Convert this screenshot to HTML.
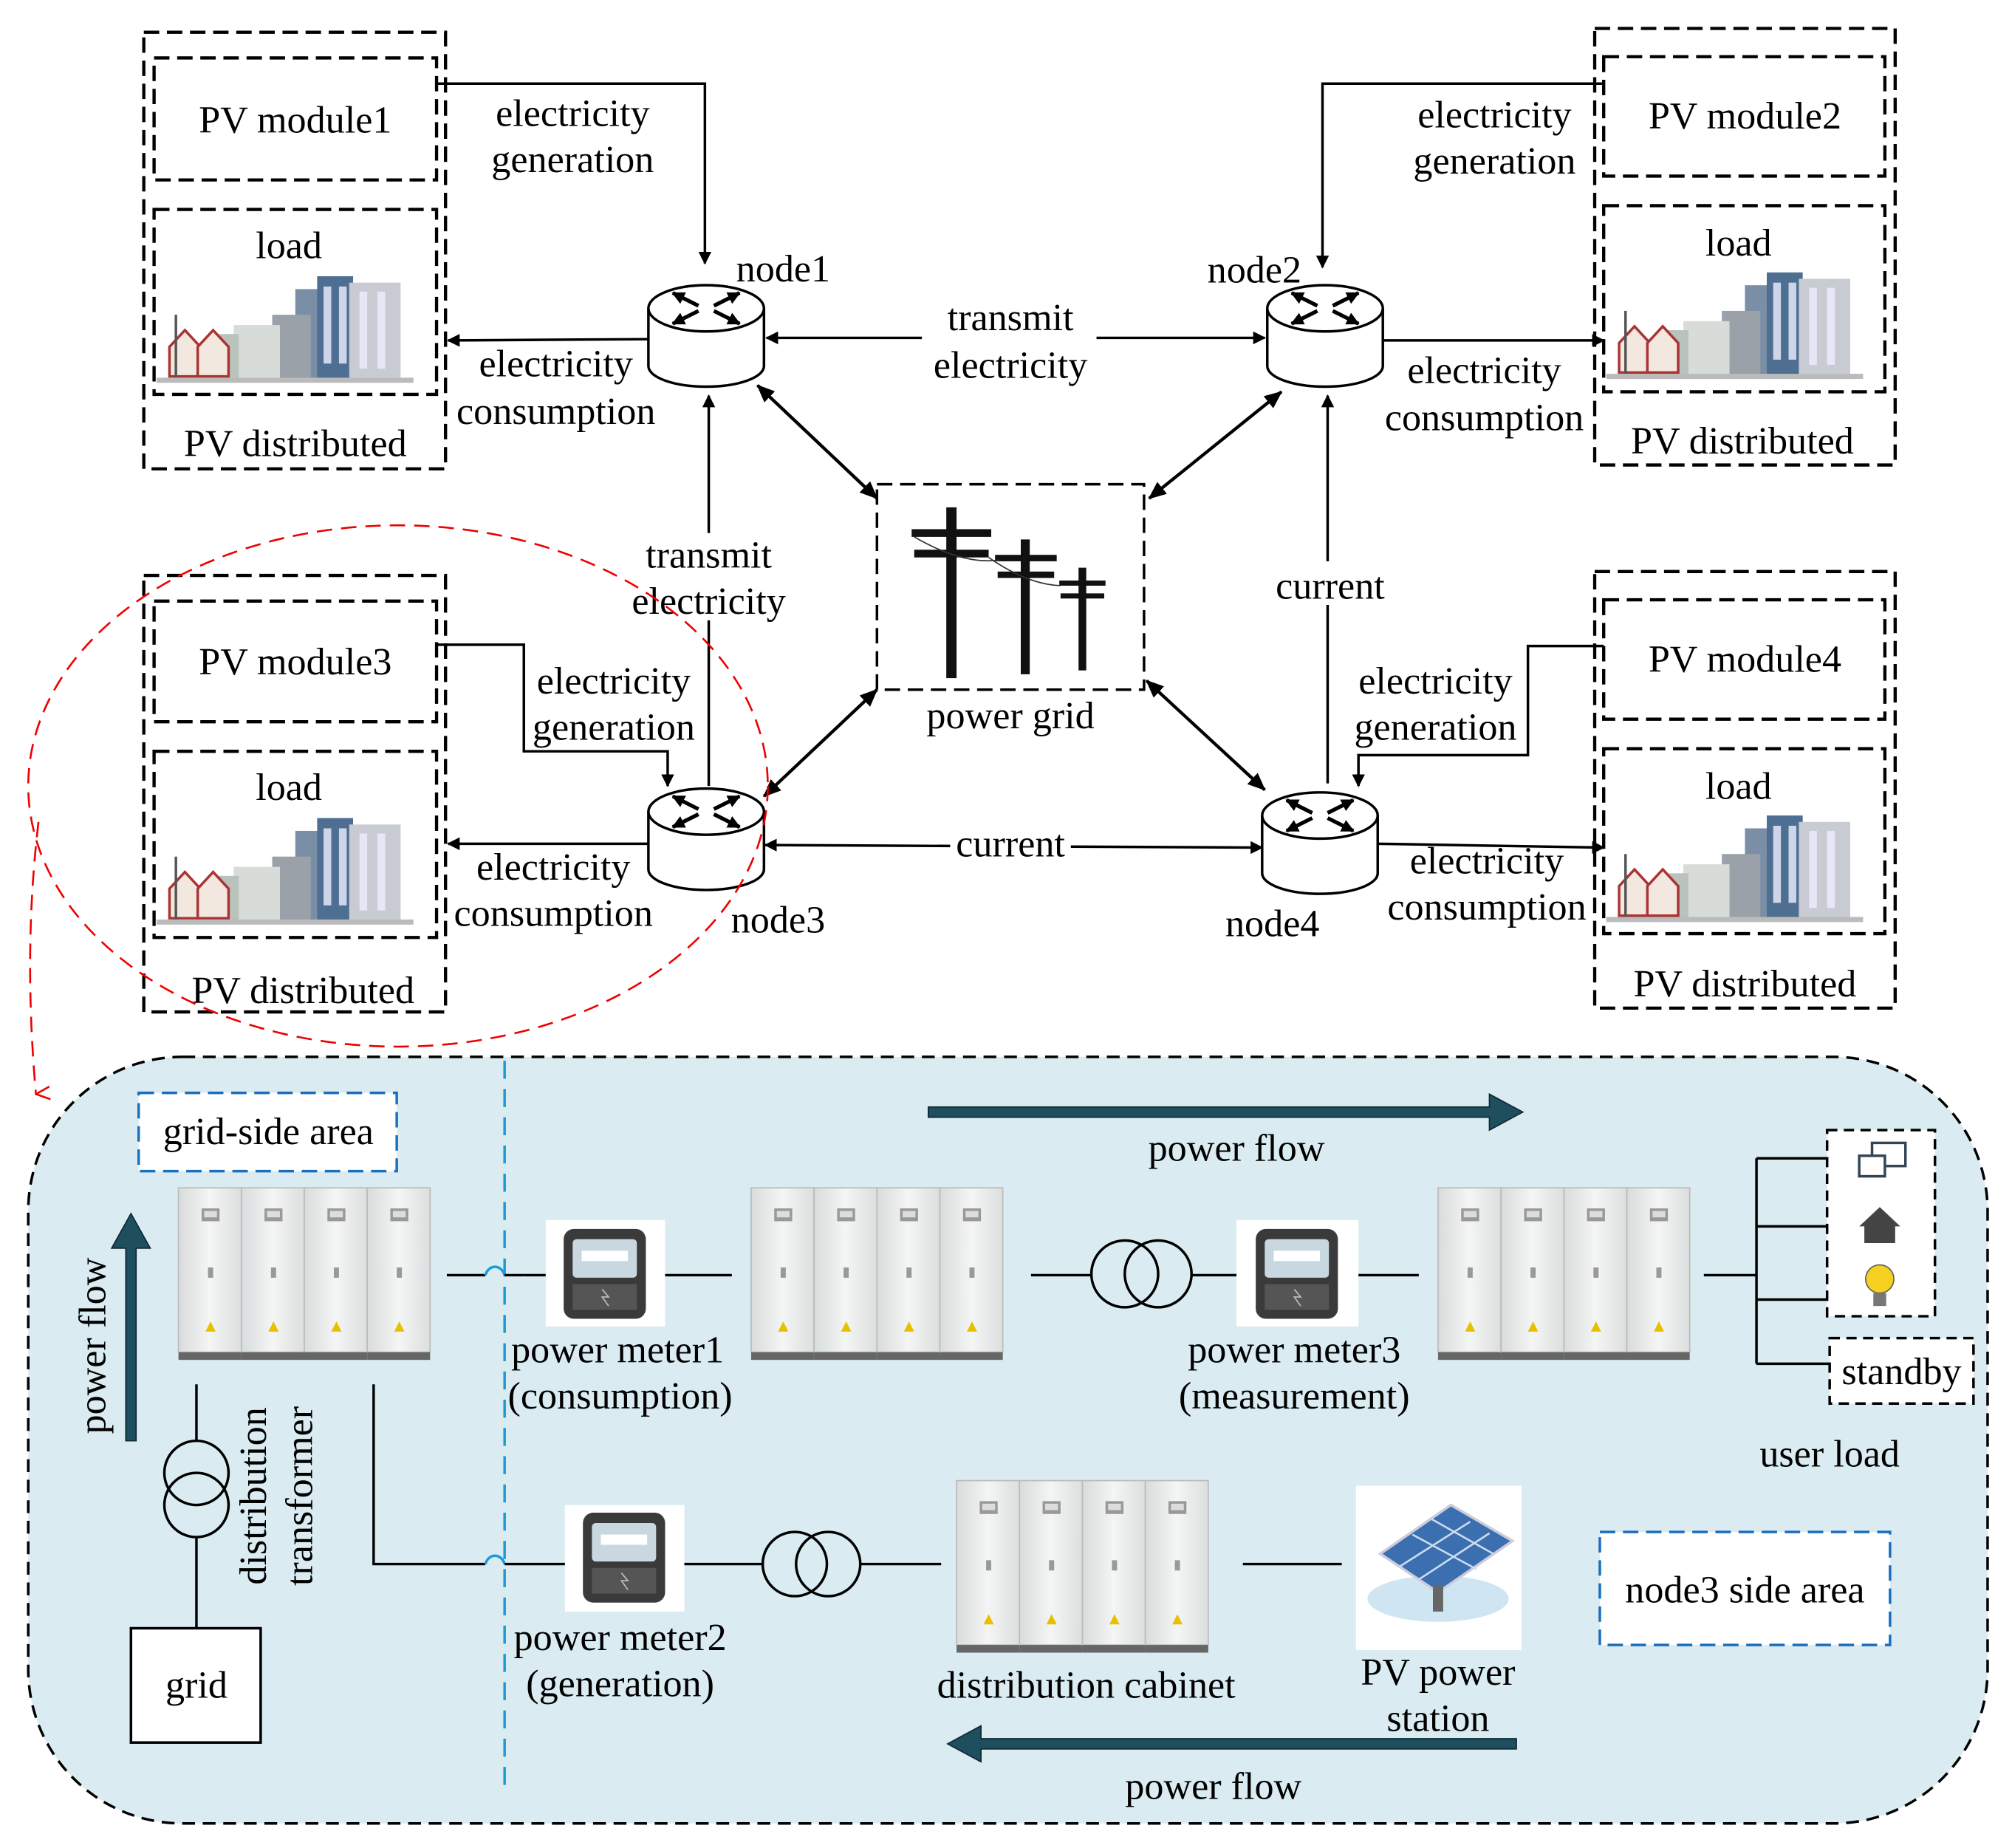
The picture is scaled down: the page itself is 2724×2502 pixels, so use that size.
<!DOCTYPE html>
<html><head><meta charset="utf-8"><style>
html,body{margin:0;padding:0;background:#fff}
svg{display:block}
text{font-family:"Liberation Serif",serif;font-size:30px;fill:#000}
</style></head><body>
<svg width="2724" height="2502" viewBox="0 0 1567 1439" xmlns="http://www.w3.org/2000/svg">
<defs>
<marker id="ar" markerWidth="10" markerHeight="10" refX="9" refY="5" orient="auto-start-reverse" markerUnits="userSpaceOnUse"><path d="M0,0 L10,5 L0,10 z" fill="#000"/></marker>
<marker id="ar2" markerWidth="14" markerHeight="14" refX="13" refY="7" orient="auto-start-reverse" markerUnits="userSpaceOnUse"><path d="M0,1 L14,7 L0,13 z" fill="#000"/></marker>
<marker id="rar" markerWidth="12" markerHeight="12" refX="6" refY="11" orient="auto" markerUnits="userSpaceOnUse"><path d="M1,0 L6,11 L11,0" fill="none" stroke="#e00" stroke-width="1.5"/></marker>
<g id="router">
<path d="M-45,0 L-45,45 A45,16 0 0 0 45,45 L45,0" fill="#fff" stroke="#000" stroke-width="2"/>
<ellipse cx="0" cy="0" rx="45" ry="18" fill="#fff" stroke="#000" stroke-width="2"/>
<g stroke="#000" stroke-width="3" marker-end="url(#ar)">
<line x1="-6" y1="-2" x2="-26" y2="-12"/><line x1="6" y1="2" x2="26" y2="12"/>
<line x1="6" y1="-2" x2="26" y2="-12"/><line x1="-6" y1="2" x2="-26" y2="12"/>
</g></g>
<g id="bld">
<rect x="0" y="0" width="200" height="85" fill="#fff"/>
<rect x="108" y="10" width="34" height="70" fill="#7a8fa6"/><rect x="125" y="0" width="28" height="80" fill="#4f6f92"/>
<rect x="150" y="5" width="40" height="75" fill="#c8ccd2"/><rect x="90" y="30" width="30" height="50" fill="#9aa1a8"/>
<rect x="60" y="38" width="36" height="42" fill="#d7dcd8"/><rect x="40" y="45" width="24" height="35" fill="#b9c3bb"/>
<path d="M10,55 L22,42 L34,55 L34,78 L10,78z" fill="#f3e8e0" stroke="#a33" stroke-width="2"/>
<path d="M32,55 L44,42 L56,55 L56,78 L32,78z" fill="#f3e8e0" stroke="#a33" stroke-width="2"/>
<line x1="15" y1="30" x2="15" y2="80" stroke="#555" stroke-width="2"/>
<g fill="#eef" opacity=".8"><rect x="130" y="8" width="6" height="60"/><rect x="142" y="8" width="6" height="60"/><rect x="158" y="12" width="6" height="60"/><rect x="172" y="12" width="6" height="60"/></g>
<rect x="0" y="79" width="200" height="4" fill="#bbb"/>
</g>
<linearGradient id="cg" x1="0" x2="1"><stop offset="0" stop-color="#d9dcdc"/><stop offset=".5" stop-color="#f4f5f5"/><stop offset="1" stop-color="#dcdfdf"/></linearGradient>
<g id="cab">
<g id="pan"><rect x="0" y="0" width="49" height="128" fill="url(#cg)" stroke="#bbb"/><rect x="18" y="16" width="14" height="10" fill="#999"/><rect x="20" y="18" width="10" height="5" fill="#ddd"/><rect x="23" y="62" width="4" height="8" fill="#999"/><path d="M21,112 L25,104 L29,112z" fill="#e8c000"/><rect x="0" y="128" width="49" height="6" fill="#666"/></g>
<use href="#pan" x="49"/><use href="#pan" x="98"/><use href="#pan" x="147"/>
</g>
<g id="meter">
<rect x="-32" y="-35" width="64" height="70" rx="8" fill="#3a3a3a"/>
<rect x="-25" y="-27" width="50" height="30" rx="3" fill="#c9d7e0"/>
<rect x="-18" y="-18" width="36" height="8" fill="#fff"/>
<rect x="-25" y="8" width="50" height="20" fill="#555"/>
<path d="M-2,12 L3,18 L-2,18 L3,25" stroke="#bbb" fill="none"/>
</g>
</defs>

<g fill="none" stroke="#000" stroke-width="2.5" stroke-dasharray="12,6">
<rect x="112" y="25" width="235" height="340"/><rect x="120" y="45" width="220" height="95"/><rect x="120" y="163" width="220" height="144"/>
<rect x="1242" y="22" width="234" height="340"/><rect x="1249" y="44" width="219" height="93"/><rect x="1249" y="160" width="219" height="145"/>
<rect x="112" y="448" width="235" height="340"/><rect x="120" y="468" width="220" height="94"/><rect x="120" y="585" width="220" height="145"/>
<rect x="1242" y="445" width="234" height="340"/><rect x="1249" y="467" width="219" height="93"/><rect x="1249" y="583" width="219" height="144"/>
<rect x="683" y="377" width="208" height="160" stroke-width="2"/>
</g>
<use href="#bld" x="122" y="215"/><use href="#bld" x="1251" y="212"/><use href="#bld" x="122" y="637"/><use href="#bld" x="1251" y="635"/>
<g text-anchor="middle">
<text x="230" y="103">PV module1</text><text x="225" y="201">load</text><text x="230" y="355">PV distributed</text>
<text x="1359" y="100">PV module2</text><text x="1354" y="199">load</text><text x="1357" y="353">PV distributed</text>
<text x="230" y="525">PV module3</text><text x="225" y="623">load</text><text x="236" y="781">PV distributed</text>
<text x="1359" y="523">PV module4</text><text x="1354" y="622">load</text><text x="1359" y="776">PV distributed</text>
</g>
<g fill="#111">
<rect x="737" y="395" width="8" height="133"/><rect x="710" y="412" width="62" height="6"/><rect x="712" y="428" width="58" height="6"/>
<rect x="795" y="420" width="7" height="105"/><rect x="775" y="432" width="48" height="5"/><rect x="777" y="445" width="44" height="5"/>
<rect x="840" y="442" width="6" height="80"/><rect x="825" y="452" width="36" height="4"/><rect x="826" y="462" width="34" height="4"/>
</g>
<path d="M712,418 Q750,440 778,436 M770,434 Q800,455 826,456" stroke="#333" fill="none"/>
<text x="787" y="567" text-anchor="middle">power grid</text>

<g stroke="#000" stroke-width="2" fill="none">
<polyline points="340,65 549,65 549,205" marker-end="url(#ar)"/>
<line x1="505" y1="264" x2="349" y2="265" marker-end="url(#ar)"/>
<line x1="597" y1="263" x2="985" y2="263" marker-start="url(#ar)" marker-end="url(#ar)"/>
<line x1="552" y1="612" x2="552" y2="308" marker-end="url(#ar)"/>
<line x1="590" y1="300" x2="683" y2="388" stroke-width="2.5" marker-start="url(#ar2)" marker-end="url(#ar2)"/>
<line x1="998" y1="305" x2="895" y2="388" stroke-width="2.5" marker-start="url(#ar2)" marker-end="url(#ar2)"/>
<line x1="595" y1="620" x2="683" y2="537" stroke-width="2.5" marker-start="url(#ar2)" marker-end="url(#ar2)"/>
<line x1="893" y1="530" x2="985" y2="615" stroke-width="2.5" marker-start="url(#ar2)" marker-end="url(#ar2)"/>
<line x1="596" y1="658" x2="983" y2="660" marker-start="url(#ar)" marker-end="url(#ar)"/>
<line x1="1034" y1="610" x2="1034" y2="308" marker-end="url(#ar)"/>
<polyline points="1249,65 1030,65 1030,208" marker-end="url(#ar)"/>
<line x1="1077" y1="265" x2="1249" y2="265" marker-end="url(#ar)"/>
<polyline points="340,502 408,502 408,585 520,585 520,612" marker-end="url(#ar)"/>
<line x1="505" y1="657" x2="349" y2="657" marker-end="url(#ar)"/>
<polyline points="1249,503 1190,503 1190,588 1058,588 1058,612" marker-end="url(#ar)"/>
<line x1="1073" y1="657" x2="1249" y2="660" marker-end="url(#ar)"/>
</g>
<use href="#router" x="550" y="240"/><use href="#router" x="1032" y="240"/><use href="#router" x="550" y="632"/><use href="#router" x="1028" y="635"/>
<g fill="#fff"><rect x="718" y="228" width="136" height="70"/><rect x="496" y="415" width="115" height="68"/><rect x="740" y="642" width="94" height="30"/><rect x="990" y="437" width="92" height="34"/></g>
<g text-anchor="middle">
<text x="446" y="98">electricity</text><text x="446" y="134">generation</text>
<text x="433" y="293">electricity</text><text x="433" y="330">consumption</text>
<text x="610" y="219">node1</text><text x="977" y="220">node2</text>
<text x="787" y="257">transmit</text><text x="787" y="294">electricity</text>
<text x="1164" y="99">electricity</text><text x="1164" y="135">generation</text>
<text x="1156" y="298">electricity</text><text x="1156" y="335">consumption</text>
<text x="552" y="442">transmit</text><text x="552" y="478">electricity</text>
<text x="478" y="540">electricity</text><text x="478" y="576">generation</text>
<text x="431" y="685">electricity</text><text x="431" y="721">consumption</text>
<text x="606" y="726">node3</text><text x="787" y="667">current</text><text x="991" y="729">node4</text>
<text x="1036" y="466">current</text>
<text x="1118" y="540">electricity</text><text x="1118" y="576">generation</text>
<text x="1158" y="680">electricity</text><text x="1158" y="716">consumption</text>
</g>
<ellipse cx="310" cy="612" rx="288" ry="203" fill="none" stroke="#e00" stroke-width="1.5" stroke-dasharray="12,7"/>
<path d="M30,640 Q18,740 28,852" fill="none" stroke="#e00" stroke-width="1.5" stroke-dasharray="12,7" marker-end="url(#rar)"/>

<rect x="22" y="823" width="1526" height="597" rx="120" fill="#daecf2" stroke="#000" stroke-width="2" stroke-dasharray="10,6"/>
<line x1="393" y1="826" x2="393" y2="1392" stroke="#1a9ad6" stroke-width="2" stroke-dasharray="14,8"/>
<rect x="108" y="851" width="201" height="61" fill="#fff" stroke="#1a6fc0" stroke-width="2" stroke-dasharray="12,6"/>
<text x="209" y="891" text-anchor="middle">grid-side area</text>
<rect x="1246" y="1193" width="226" height="88" fill="#fff" stroke="#1a6fc0" stroke-width="2" stroke-dasharray="12,6"/>
<text x="1359" y="1248" text-anchor="middle">node3 side area</text>
<g fill="#1f4e5f" stroke="#0e2a33" stroke-width="1">
<path d="M723,862 L1160,862 L1160,852 L1186,866 L1160,880 L1160,870 L723,870z"/>
<path d="M1181,1354 L764,1354 L764,1344 L738,1358 L764,1372 L764,1362 L1181,1362z"/>
<path d="M98,1122 L98,972 L87,972 L102,945 L117,972 L106,972 L106,1122z"/>
</g>
<text x="963" y="904" text-anchor="middle">power flow</text>
<text x="945" y="1401" text-anchor="middle">power flow</text>
<text transform="translate(82,1048) rotate(-90)" text-anchor="middle">power flow</text>
<use href="#cab" x="139" y="925"/><use href="#cab" x="585" y="925"/><use href="#cab" x="1120" y="925"/><use href="#cab" x="745" y="1153"/>
<rect x="425" y="950" width="93" height="83" fill="#fff"/><use href="#meter" x="471" y="992"/>
<rect x="963" y="950" width="95" height="83" fill="#fff"/><use href="#meter" x="1010" y="992"/>
<rect x="440" y="1172" width="93" height="83" fill="#fff"/><use href="#meter" x="486" y="1213"/>
<g stroke="#000" stroke-width="2" fill="none">
<path d="M348,993 L378,993"/><path d="M378,993 A8,10 0 0 1 393,993" stroke="#1a9ad6"/><path d="M408,993 L425,993"/>
<path d="M393,993 L408,993"/>
<line x1="518" y1="993" x2="570" y2="993"/><line x1="803" y1="993" x2="850" y2="993"/><line x1="928" y1="993" x2="963" y2="993"/>
<line x1="1058" y1="993" x2="1105" y2="993"/><line x1="1327" y1="993" x2="1368" y2="993"/>
<circle cx="876" cy="992" r="26"/><circle cx="902" cy="992" r="26"/>
<polyline points="291,1078 291,1218 378,1218"/><path d="M378,1218 A8,10 0 0 1 393,1218" stroke="#1a9ad6"/><line x1="393" y1="1218" x2="440" y2="1218"/>
<line x1="533" y1="1218" x2="595" y2="1218"/><circle cx="619" cy="1218" r="25"/><circle cx="645" cy="1218" r="25"/><line x1="670" y1="1218" x2="733" y2="1218"/>
<line x1="968" y1="1218" x2="1045" y2="1218"/>
<line x1="153" y1="1078" x2="153" y2="1122"/><circle cx="153" cy="1147" r="25"/><circle cx="153" cy="1172" r="25"/><line x1="153" y1="1197" x2="153" y2="1268"/>
<line x1="1368" y1="902" x2="1368" y2="1062"/>
<line x1="1368" y1="902" x2="1423" y2="902"/><line x1="1368" y1="955" x2="1423" y2="955"/><line x1="1368" y1="1012" x2="1423" y2="1012"/><line x1="1368" y1="1062" x2="1425" y2="1062"/>
</g>
<rect x="102" y="1268" width="101" height="89" fill="#fff" stroke="#000" stroke-width="2"/>
<text x="153" y="1322" text-anchor="middle">grid</text>
<text transform="translate(207,1165) rotate(-90)" text-anchor="middle">distribution</text>
<text transform="translate(243,1165) rotate(-90)" text-anchor="middle">transformer</text>
<rect x="1423" y="880" width="84" height="145" fill="#fff" stroke="#000" stroke-width="2" stroke-dasharray="8,5"/>
<rect x="1458" y="890" width="26" height="18" fill="#fff" stroke="#345" stroke-width="2"/><rect x="1448" y="900" width="20" height="16" fill="#fff" stroke="#345" stroke-width="2"/>
<path d="M1448,955 L1464,940 L1480,955 L1476,955 L1476,968 L1452,968 L1452,955z" fill="#444"/>
<circle cx="1464" cy="996" r="11" fill="#f5d020" stroke="#665" /><rect x="1459" y="1007" width="10" height="10" fill="#777"/>
<rect x="1425" y="1042" width="112" height="51" fill="#fff" stroke="#000" stroke-width="2" stroke-dasharray="8,5"/>
<text x="1481" y="1078" text-anchor="middle">standby</text>
<text x="1425" y="1142" text-anchor="middle">user load</text>
<rect x="1056" y="1157" width="129" height="128" fill="#fff"/>
<ellipse cx="1120" cy="1245" rx="55" ry="18" fill="#cfe6f2"/>
<path d="M1075,1210 L1130,1172 L1178,1200 L1120,1240z" fill="#3b6fb0" stroke="#ccd" stroke-width="2"/>
<path d="M1100,1195 L1150,1222 M1115,1183 L1163,1210 M1090,1220 L1145,1185 M1105,1230 L1160,1194" stroke="#cde" stroke-width="1.5"/>
<rect x="1116" y="1235" width="8" height="20" fill="#666"/>
<g text-anchor="middle">
<text x="481" y="1061">power meter1</text><text x="483" y="1097">(consumption)</text>
<text x="1008" y="1061">power meter3</text><text x="1008" y="1097">(measurement)</text>
<text x="483" y="1285">power meter2</text><text x="483" y="1321">(generation)</text>
<text x="846" y="1322">distribution cabinet</text>
<text x="1120" y="1312">PV power</text><text x="1120" y="1348">station</text>
</g>
</svg>
</body></html>
